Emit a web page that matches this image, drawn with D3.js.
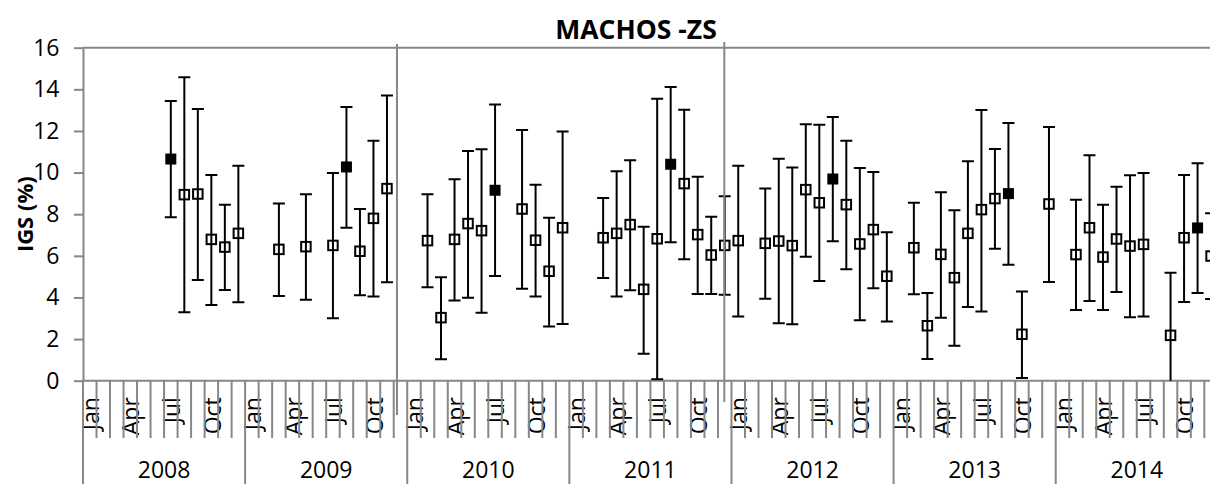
<!DOCTYPE html>
<html>
<head>
<meta charset="utf-8">
<script src="https://cdn.jsdelivr.net/npm/d3@7"></script>
<style>
  body { margin: 0; background: #fff; overflow: hidden; }
  text { font-family: "Open Sans", "Noto Sans", sans-serif; fill: #000; }
</style>
</head>
<body>
<script>
'use strict';

var years = ["2008", "2009", "2010", "2011", "2012", "2013", "2014"];
var months = ["Jan", "Feb", "Mar", "Apr", "May", "Jun", "Jul", "Aug", "Sep", "Oct", "Nov", "Dec"];
var shownMonths = ["Jan", "Apr", "Jul", "Oct"];
var yTicks = [0, 2, 4, 6, 8, 10, 12, 14, 16];

// sampled months with mean IGS and error bar ends
var sampleMonths = [
  "2008-Jul", "2008-Aug", "2008-Sep", "2008-Oct", "2008-Nov", "2008-Dec",
  "2009-Mar", "2009-May", "2009-Jul", "2009-Aug", "2009-Sep", "2009-Oct", "2009-Nov",
  "2010-Feb", "2010-Mar", "2010-Apr", "2010-May", "2010-Jun", "2010-Jul", "2010-Sep", "2010-Oct", "2010-Nov", "2010-Dec",
  "2011-Mar", "2011-Apr", "2011-May", "2011-Jun", "2011-Jul", "2011-Aug", "2011-Sep", "2011-Oct", "2011-Nov", "2011-Dec",
  "2012-Jan", "2012-Mar", "2012-Apr", "2012-May", "2012-Jun", "2012-Jul", "2012-Aug", "2012-Sep", "2012-Oct", "2012-Nov", "2012-Dec",
  "2013-Feb", "2013-Mar", "2013-Apr", "2013-May", "2013-Jun", "2013-Jul", "2013-Aug", "2013-Sep", "2013-Oct", "2013-Dec",
  "2014-Feb", "2014-Mar", "2014-Apr", "2014-May", "2014-Jun", "2014-Jul", "2014-Sep", "2014-Oct", "2014-Nov", "2014-Dec"
];
var meanValues = [
  10.65, 8.94, 8.97, 6.79, 6.42, 7.08,
  6.31, 6.44, 6.50, 10.27, 6.22, 7.80, 9.23,
  6.73, 3.03, 6.79, 7.55, 7.21, 9.15, 8.25, 6.75, 5.26, 7.35,
  6.87, 7.08, 7.50, 4.39, 6.82, 10.40, 9.47, 7.02, 6.04, 6.50,
  6.73, 6.60, 6.71, 6.49, 9.18, 8.55, 9.69, 8.46, 6.57, 7.26, 5.02,
  6.39, 2.64, 6.07, 4.95, 7.08, 8.22, 8.75, 8.99, 2.23, 8.49,
  6.06, 7.35, 5.94, 6.81, 6.47, 6.55, 2.18, 6.87, 7.34, 5.99
];
var upperValues = [
  13.44, 14.58, 13.06, 9.88, 8.46, 10.33,
  8.52, 8.96, 9.98, 13.15, 8.25, 11.53, 13.70,
  8.96, 4.97, 9.68, 11.04, 11.12, 13.27, 12.05, 9.42, 7.83, 11.97,
  8.78, 10.06, 10.59, 7.40, 13.55, 14.11, 13.02, 9.80, 7.88, 8.86,
  10.33, 9.24, 10.67, 10.24, 12.32, 12.30, 12.67, 11.53, 10.22, 10.03, 7.13,
  8.55, 4.21, 9.05, 8.19, 10.54, 13.01, 11.13, 12.38, 4.28, 12.19,
  8.70, 10.83, 8.46, 9.32, 9.87, 9.98, 5.19, 9.88, 10.45, 8.04
];
var lowerValues = [
  7.85, 3.29, 4.84, 3.64, 4.36, 3.77,
  4.07, 3.89, 3.00, 7.35, 4.10, 4.04, 4.73,
  4.49, 1.03, 3.85, 3.99, 3.27, 5.03, 4.42, 4.04, 2.60, 2.72,
  4.93, 4.04, 4.34, 1.30, 0.07, 6.65, 5.83, 4.17, 4.17, 4.13,
  3.08, 3.94, 2.76, 2.71, 5.96, 4.79, 6.70, 5.35, 2.90, 4.44, 2.84,
  4.15, 1.04, 3.03, 1.68, 3.54, 3.32, 6.34, 5.57, 0.13, 4.74,
  3.40, 3.83, 3.40, 4.26, 3.05, 3.08, -0.80, 3.78, 4.21, 3.93
];
// months drawn with a filled marker
var peakMonths = ["2008-Jul", "2009-Aug", "2010-Jul", "2011-Aug", "2012-Aug", "2013-Sep", "2014-Nov"];

var width = 1210, height = 484;
var grey = "#878787";
var plotLeft = 83, bandW = 13.51;
var plotRight = plotLeft + bandW * years.length * months.length; // runs past the page edge
var plotTop = 47.7, plotBase = 380.7;

var keys = [];
years.forEach(function (yr) {
  months.forEach(function (m) { keys.push(yr + "-" + m); });
});

var points = sampleMonths.map(function (k, i) {
  return { key: k, mean: meanValues[i], hi: upperValues[i], lo: lowerValues[i], peak: peakMonths.indexOf(k) >= 0 };
});

var svg = d3.select("body").append("svg")
  .attr("width", width)
  .attr("height", height);

var x = d3.scaleBand().domain(keys).range([plotLeft, plotRight]).padding(0);
var xYear = d3.scaleBand().domain(years).range([plotLeft, plotRight]).padding(0);
var xIdx = d3.scaleLinear().domain([0, keys.length]).range([plotLeft, plotRight]);
var y = d3.scaleLinear().domain([0, 16]).range([plotBase, plotTop]);

// title
svg.append("text")
  .attr("x", 636)
  .attr("y", 38.5)
  .attr("text-anchor", "middle")
  .style("font-size", "26.5px")
  .style("font-weight", "bold")
  .text("MACHOS -ZS");

// y axis title
svg.append("text")
  .attr("transform", "translate(33," + ((plotTop + plotBase) / 2) + ") rotate(-90)")
  .attr("text-anchor", "middle")
  .style("font-size", "22px")
  .style("font-weight", "bold")
  .text("IGS (%)");

// plot top border
svg.append("line")
  .attr("x1", plotLeft).attr("x2", plotRight)
  .attr("y1", y(16)).attr("y2", y(16))
  .attr("stroke", grey).attr("stroke-width", 2);

// y axis
var yAxisGroup = svg.append("g")
  .attr("transform", "translate(" + plotLeft + ",0)");
var yAxis = d3.axisLeft(y)
  .tickValues(yTicks)
  .tickSize(9)
  .tickSizeOuter(0)
  .tickPadding(14.5);
yAxis(yAxisGroup);
yAxisGroup.select(".domain").attr("stroke", grey).attr("stroke-width", 2);
yAxisGroup.selectAll(".tick line").attr("stroke", grey).attr("stroke-width", 2);
yAxisGroup.selectAll("text")
  .style("font-size", "23px")
  .style("font-family", "'Open Sans', sans-serif")
  .attr("fill", "#000");

// category axis: month labels
var xAxisGroup = svg.append("g")
  .attr("transform", "translate(0," + plotBase + ")");
var xAxis = d3.axisBottom(x)
  .tickSize(0)
  .tickSizeOuter(0)
  .tickFormat(function (k) {
    var m = k.split("-")[1];
    return shownMonths.indexOf(m) >= 0 ? m : "";
  });
xAxis(xAxisGroup);
xAxisGroup.select(".domain").remove();
xAxisGroup.selectAll("text")
  .attr("transform", "rotate(-90)")
  .attr("x", -16.5)
  .attr("y", 0)
  .attr("dy", "0.4em")
  .attr("text-anchor", "end")
  .style("font-size", "23px")
  .style("font-family", "'Open Sans', sans-serif")
  .attr("fill", "#000");

// year labels
var yearAxisGroup = svg.append("g")
  .attr("transform", "translate(0," + plotBase + ")");
var yearAxis = d3.axisBottom(xYear).tickSize(0).tickSizeOuter(0);
yearAxis(yearAxisGroup);
yearAxisGroup.select(".domain").remove();
yearAxisGroup.selectAll("text")
  .attr("y", 97)
  .attr("dy", 0)
  .style("font-size", "23px")
  .style("font-family", "'Open Sans', sans-serif")
  .attr("fill", "#000");

// category boundaries: month ticks and year separators
svg.append("g").selectAll("line")
  .data(keys.concat(["end"]))
  .join("line")
  .attr("x1", function (k) { return k === "end" ? plotRight : x(k); })
  .attr("x2", function (k) { return k === "end" ? plotRight : x(k); })
  .attr("y1", plotBase)
  .attr("y2", function (k) { return (k === "end" || k.split("-")[1] === "Jan") ? height : 438; })
  .attr("stroke", grey)
  .attr("stroke-width", 2);

// category axis line
svg.append("line")
  .attr("x1", plotLeft).attr("x2", plotRight)
  .attr("y1", plotBase).attr("y2", plotBase)
  .attr("stroke", grey).attr("stroke-width", 2);

// clip for marks
svg.append("clipPath").attr("id", "plotClip")
  .append("rect")
  .attr("x", plotLeft).attr("y", plotTop)
  .attr("width", plotRight - plotLeft).attr("height", plotBase - plotTop);

var marks = svg.append("g").attr("clip-path", "url(#plotClip)");
var cx = function (d) { return x(d.key) + x.bandwidth() / 2; };

// error bars
var bars = marks.append("g")
  .attr("stroke", "#000")
  .attr("stroke-width", 2);
bars.selectAll(".stem")
  .data(points)
  .join("line")
  .attr("class", "stem")
  .attr("x1", cx).attr("x2", cx)
  .attr("y1", function (d) { return y(d.hi); })
  .attr("y2", function (d) { return y(d.lo); });
bars.selectAll(".capHi")
  .data(points)
  .join("line")
  .attr("class", "capHi")
  .attr("x1", function (d) { return cx(d) - 6; })
  .attr("x2", function (d) { return cx(d) + 6; })
  .attr("y1", function (d) { return y(d.hi); })
  .attr("y2", function (d) { return y(d.hi); });
bars.selectAll(".capLo")
  .data(points.filter(function (d) { return d.lo >= 0; }))
  .join("line")
  .attr("class", "capLo")
  .attr("x1", function (d) { return cx(d) - 6; })
  .attr("x2", function (d) { return cx(d) + 6; })
  .attr("y1", function (d) { return y(d.lo); })
  .attr("y2", function (d) { return y(d.lo); });

// markers
marks.append("g").selectAll("rect")
  .data(points)
  .join("rect")
  .attr("x", function (d) { return cx(d) - (d.peak ? 5.5 : 4.75); })
  .attr("y", function (d) { return y(d.mean) - (d.peak ? 5.5 : 4.75); })
  .attr("width", function (d) { return d.peak ? 11 : 9.5; })
  .attr("height", function (d) { return d.peak ? 11 : 9.5; })
  .attr("fill", function (d) { return d.peak ? "#000" : "none"; })
  .attr("stroke", "#000")
  .attr("stroke-width", function (d) { return d.peak ? 0 : 2; });

// hand drawn separator lines
svg.append("line")
  .attr("x1", xIdx(23.24)).attr("x2", xIdx(23.24))
  .attr("y1", y(16.18)).attr("y2", y(-1.65))
  .attr("stroke", grey).attr("stroke-width", 2);
svg.append("line")
  .attr("x1", xIdx(47.47)).attr("x2", xIdx(47.47))
  .attr("y1", y(16.27)).attr("y2", y(-1.02))
  .attr("stroke", grey).attr("stroke-width", 2);
</script>
</body>
</html>
